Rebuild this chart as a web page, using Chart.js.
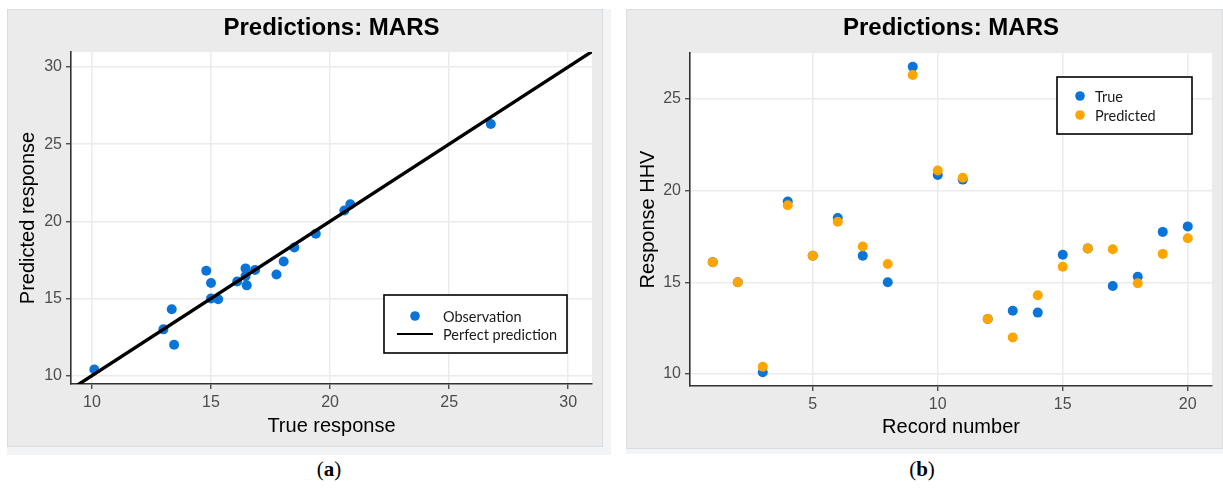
<!DOCTYPE html>
<html>
<head>
<meta charset="utf-8">
<script src="https://cdn.jsdelivr.net/npm/chart.js@4.4.1/dist/chart.umd.min.js"></script>
<style>
  html, body { margin: 0; padding: 0; background: #fff; width: 1223px; height: 492px; overflow: hidden; position: relative; }
  .frame { position: absolute; background: #f2f4f6; }
  .panel { position: absolute; background: #ebebeb; border: 1px solid #dadde0; box-sizing: border-box; }
  .holder { position: absolute; }
  .cap { position: absolute; top: 457px; font-family: "Liberation Serif", "DejaVu Serif", serif; font-size: 21px; color: #000; transform: translateX(-50%); }
</style>
</head>
<body>
<div class="frame" style="left:7px;top:9px;width:604px;height:446px"></div>
<div class="panel" style="left:7px;top:9px;width:596px;height:438px"></div>
<div class="frame" style="left:626px;top:9px;width:597px;height:445px"></div>
<div class="panel" style="left:626px;top:9px;width:597px;height:440px"></div>

<div class="holder" style="left:7px;top:9px"><canvas id="chartA" width="596" height="438"></canvas></div>
<div class="holder" style="left:626px;top:9px"><canvas id="chartB" width="597" height="440"></canvas></div>

<div class="cap" style="left:329px">(<b>a</b>)</div>
<div class="cap" style="left:922px">(<b>b</b>)</div>

<script>
// Record numbers of the 20 samples
const records = [1, 2, 3, 4, 5, 6, 7, 8, 9, 10, 11, 12, 13, 14, 15, 16, 17, 18, 19, 20];
// Measured higher heating value (true response)
const trueHHV = [16.1, 15.0, 10.1, 19.4, 16.45, 18.5, 16.45, 15.0, 26.75, 20.85,
                 20.6, 13.0, 13.45, 13.35, 16.5, 16.85, 14.8, 15.3, 17.75, 18.05];
// MARS model prediction
const predHHV = [16.1, 15.0, 10.4, 19.2, 16.45, 18.3, 16.95, 16.0, 26.3, 21.1,
                 20.7, 13.0, 12.0, 14.3, 15.85, 16.85, 16.8, 14.95, 16.55, 17.4];
// End points of the identity line y = x
const perfectLine = [0, 40];
// Axis ranges
const rangeA = { xMin: 9.12, xMax: 31.0, yMin: 9.46, yMax: 30.97 };
const rangeB = { xMin: 0.09, xMax: 20.97, yMin: 9.35, yMax: 27.5 };

const BLUE = '#0a74d8';
const ORANGE = '#ffa500';
const SANS = '"Liberation Sans", Arial, sans-serif';

// white plotting panel
const plotBg = {
  id: 'plotBg',
  beforeDraw(chart) {
    const { ctx, chartArea: a } = chart;
    ctx.save();
    ctx.fillStyle = '#fff';
    ctx.fillRect(a.left, a.top, a.right - a.left, a.bottom - a.top);
    ctx.restore();
  }
};

// title centred over the plotting panel
const plotTitle = {
  id: 'plotTitle',
  afterDraw(chart, args, opts) {
    const { ctx, chartArea: a } = chart;
    ctx.save();
    ctx.font = 'bold 24px ' + SANS;
    ctx.fillStyle = '#000';
    ctx.textAlign = 'center';
    ctx.textBaseline = 'middle';
    ctx.fillText(opts.text, (a.left + a.right) / 2, opts.y);
    ctx.restore();
  }
};

// boxed legend inside the panel
const boxLegend = {
  id: 'boxLegend',
  afterDraw(chart, args, opts) {
    const { ctx, chartArea: a } = chart;
    const x = opts.fromRight ? a.right - opts.fromRight - opts.w : a.left + opts.fromLeft;
    const y = opts.fromBottom ? a.bottom - opts.fromBottom - opts.h : a.top + opts.fromTop;
    ctx.save();
    ctx.fillStyle = '#fff';
    ctx.fillRect(x, y, opts.w, opts.h);
    ctx.strokeStyle = '#000';
    ctx.lineWidth = 1.6;
    ctx.strokeRect(x, y, opts.w, opts.h);
    ctx.font = '14.5px Lato, "Open Sans", sans-serif';
    ctx.textBaseline = 'middle';
    ctx.textAlign = 'left';
    opts.items.forEach((it, i) => {
      const ry = y + opts.rowY[i];
      if (it.kind === 'line') {
        ctx.strokeStyle = '#000';
        ctx.lineWidth = 2;
        ctx.beginPath();
        ctx.moveTo(x + opts.keyX - 18, ry);
        ctx.lineTo(x + opts.keyX + 18, ry);
        ctx.stroke();
      } else {
        ctx.fillStyle = it.color;
        ctx.beginPath();
        ctx.arc(x + opts.keyX, ry, 4.8, 0, Math.PI * 2);
        ctx.fill();
      }
      ctx.fillStyle = '#1a1a1a';
      ctx.fillText(it.label, x + opts.textX, ry + 1);
    });
    ctx.restore();
  }
};

function axis(min, max, title, titlePad, fitKey, fitVal) {
  return {
    type: 'linear',
    min: min, max: max,
    ticks: {
      stepSize: 5, includeBounds: false,
      color: '#4d4d4d', padding: 4,
      font: { family: SANS, size: 16 }
    },
    grid: { color: '#ebebeb', lineWidth: 1.5, tickColor: '#333', tickLength: 5, tickWidth: 1.2 },
    border: { display: true, color: '#333', width: 1.6 },
    title: {
      display: true, text: title, color: '#000',
      font: { family: SANS, size: 20 }, padding: titlePad
    },
    afterFit(scale) { scale[fitKey] = fitVal; }
  };
}

new Chart(document.getElementById('chartA'), {
  type: 'scatter',
  data: {
    datasets: [
      {
        label: 'Perfect prediction',
        data: perfectLine.map(v => ({ x: v, y: v })),
        showLine: true, borderColor: '#000', borderWidth: 3.4,
        pointRadius: 0, clip: 0, order: 0
      },
      {
        label: 'Observation',
        data: trueHHV.map((t, i) => ({ x: t, y: predHHV[i] })),
        backgroundColor: BLUE, pointRadius: 5, borderWidth: 0, order: 1
      }
    ]
  },
  options: {
    responsive: false, animation: false,
    layout: { padding: { top: 43, right: 11, left: 0, bottom: 0 } },
    plugins: {
      legend: { display: false }, tooltip: { enabled: false },
      plotTitle: { text: 'Predictions: MARS', y: 19 },
      boxLegend: {
        fromRight: 25, fromBottom: 31, w: 183, h: 58,
        keyX: 31, textX: 59, rowY: [21, 39],
        items: [
          { kind: 'dot', color: BLUE, label: 'Observation' },
          { kind: 'line', label: 'Perfect prediction' }
        ]
      }
    },
    scales: {
      x: axis(rangeA.xMin, rangeA.xMax, 'True response', { top: 0, bottom: 9 }, 'height', 63),
      y: axis(rangeA.yMin, rangeA.yMax, 'Predicted response', { top: 9, bottom: 0 }, 'width', 64)
    }
  },
  plugins: [plotBg, plotTitle, boxLegend]
});

new Chart(document.getElementById('chartB'), {
  type: 'scatter',
  data: {
    datasets: [
      {
        label: 'True',
        data: records.map((r, i) => ({ x: r, y: trueHHV[i] })),
        backgroundColor: BLUE, pointRadius: 5, borderWidth: 0, order: 1
      },
      {
        label: 'Predicted',
        data: records.map((r, i) => ({ x: r, y: predHHV[i] })),
        backgroundColor: ORANGE, pointRadius: 5, borderWidth: 0, order: 0
      }
    ]
  },
  options: {
    responsive: false, animation: false,
    layout: { padding: { top: 44, right: 11, left: 0, bottom: 0 } },
    plugins: {
      legend: { display: false }, tooltip: { enabled: false },
      plotTitle: { text: 'Predictions: MARS', y: 19 },
      boxLegend: {
        fromRight: 20, fromTop: 24, w: 135, h: 57,
        keyX: 23, textX: 38, rowY: [19, 38],
        items: [
          { kind: 'dot', color: BLUE, label: 'True' },
          { kind: 'dot', color: ORANGE, label: 'Predicted' }
        ]
      }
    },
    scales: {
      x: axis(rangeB.xMin, rangeB.xMax, 'Record number', { top: 0, bottom: 10 }, 'height', 63),
      y: axis(rangeB.yMin, rangeB.yMax, 'Response HHV', { top: 10, bottom: 0 }, 'width', 64)
    }
  },
  plugins: [plotBg, plotTitle, boxLegend]
});
</script>
</body>
</html>
